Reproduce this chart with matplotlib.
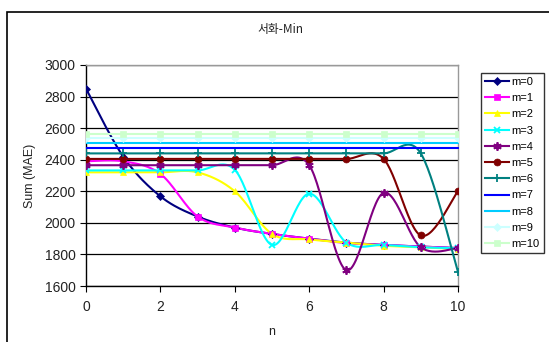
import numpy as np
import matplotlib
matplotlib.use("Agg")
import matplotlib.pyplot as plt
from matplotlib.patches import Rectangle

plt.rcParams['font.family'] = ['Liberation Sans', 'Noto Sans CJK KR', 'DejaVu Sans']

n = [0, 1, 2, 3, 4, 5, 6, 7, 8, 9, 10]
labels = ["m=0", "m=1", "m=2", "m=3", "m=4", "m=5", "m=6", "m=7", "m=8", "m=9", "m=10"]
m0 = [2850, 2420, 2168, 2040, 1970, 1930, 1900, 1875, 1860, 1850, 1840]
m1 = [2390, 2390, 2310, 2040, 1970, 1930, 1900, 1872, 1860, 1850, 1840]
m2 = [2320, 2320, 2320, 2320, 2200, 1930, 1895, 1875, 1855, 1845, 1835]
m3 = [2332, 2332, 2332, 2332, 2336, 1860, 2185, 1875, 1860, 1845, 1840]
m4 = [2365, 2365, 2365, 2365, 2365, 2365, 2365, 1700, 2190, 1845, 1840]
m5 = [2405, 2405, 2405, 2405, 2405, 2405, 2405, 2405, 2405, 1920, 2200]
m6 = [2440, 2440, 2440, 2440, 2440, 2440, 2440, 2440, 2440, 2440, 1690]
m7 = [2472, 2472, 2472, 2472, 2472, 2472, 2472, 2472, 2472, 2472, 2472]
m8 = [2506, 2506, 2506, 2506, 2506, 2506, 2506, 2506, 2506, 2506, 2506]
m9 = [2535, 2535, 2535, 2535, 2535, 2535, 2535, 2535, 2535, 2535, 2535]
m10 = [2562, 2562, 2562, 2562, 2562, 2562, 2562, 2562, 2562, 2562, 2562]
series = [m0, m1, m2, m3, m4, m5, m6, m7, m8, m9, m10]

colors = ["#000080", "#FF00FF", "#FFFF00", "#00FFFF", "#800080", "#800000",
          "#008080", "#0000FF", "#00CCFF", "#CCFFFF", "#CCFFCC"]
markers = ["D", "s", "^", "x", (6, 2, 0), "o", "+", "_", "_", "D", "s"]
msizes = [4, 5, 5, 5, 6, 5, 6, 5, 5, 4, 5]


def smooth(x, y, k=30):
    x = np.asarray(x, float)
    y = np.asarray(y, float)
    px = np.concatenate([[x[0]], x, [x[-1]]])
    py = np.concatenate([[y[0]], y, [y[-1]]])
    xs, ys = [], []
    for i in range(1, len(px) - 2):
        p0, p1, p2, p3 = (np.array([px[j], py[j]]) for j in (i - 1, i, i + 1, i + 2))
        c1 = p1 + (p2 - p0) / 6
        c2 = p2 - (p3 - p1) / 6
        t = np.linspace(0, 1, k)[:, None]
        b = ((1 - t) ** 3) * p1 + 3 * ((1 - t) ** 2) * t * c1 + 3 * (1 - t) * t ** 2 * c2 + t ** 3 * p2
        xs.append(b[:, 0])
        ys.append(b[:, 1])
    return np.concatenate(xs), np.concatenate(ys)


fig = plt.figure(figsize=(5.49, 3.42), dpi=100)
W, H = 549, 342
ax = fig.add_axes([86 / W, 1 - 286 / H, (458 - 86) / W, (286 - 65) / H])

# outer chart border
fig.patches.append(Rectangle((7 / W, -0.1), 1.2, 1 - 12 / H + 0.1, transform=fig.transFigure,
                             fill=False, edgecolor="black", linewidth=1.2))

for i, (s, c, mk, ms) in enumerate(zip(series, colors, markers, msizes)):
    sx, sy = smooth(n, s)
    ax.plot(sx, sy, color=c, linewidth=1.5, zorder=3 + i * 0.01)
    mew = 1.3 if mk in ("x", "+", "_") or isinstance(mk, tuple) else 0.5
    ax.plot(n, s, linestyle="none", marker=mk, color=c, markersize=ms,
            markeredgecolor=c, markeredgewidth=mew, zorder=4 + i * 0.01)
    ax.plot([], [], color=c, marker=mk, markersize=ms, markeredgewidth=mew,
            linewidth=1.5, label=labels[i])

ax.set_xlim(0, 10)
ax.set_ylim(1600, 3000)
ax.set_xticks([0, 2, 4, 6, 8, 10])
ax.set_yticks(np.arange(1600, 3001, 200))
ax.yaxis.grid(True, color="black", linewidth=0.9)
ax.set_axisbelow(True)
ax.tick_params(axis="both", direction="out", length=4, labelsize=10, colors="black",
               labelcolor="#222222")
ax.tick_params(axis="x", pad=6)
for side in ("top", "right"):
    ax.spines[side].set_color("#999999")
    ax.spines[side].set_linewidth(1.0)
for side in ("left", "bottom"):
    ax.spines[side].set_color("black")
    ax.spines[side].set_linewidth(1.0)

ax.set_xlabel("n", fontsize=9, labelpad=9, color="#222222")
ax.set_ylabel("Sum (MAE)", fontsize=9, labelpad=6, color="#222222")
fig.text(280 / W, 1 - 30 / H, "서화-Min", ha="center", va="center", fontsize=8.5,
         family=['Noto Sans CJK KR', 'DejaVu Sans'], color="#222222")

leg = fig.legend(loc="upper left", bbox_to_anchor=(481 / W, 1 - 73 / H), fontsize=8,
                 frameon=True, fancybox=False, edgecolor="black", handlelength=2.2,
                 handletextpad=0.2, labelspacing=0.56, borderpad=0.35, borderaxespad=0)
leg.get_frame().set_linewidth(1.0)

fig.savefig("out.png", dpi=100)
